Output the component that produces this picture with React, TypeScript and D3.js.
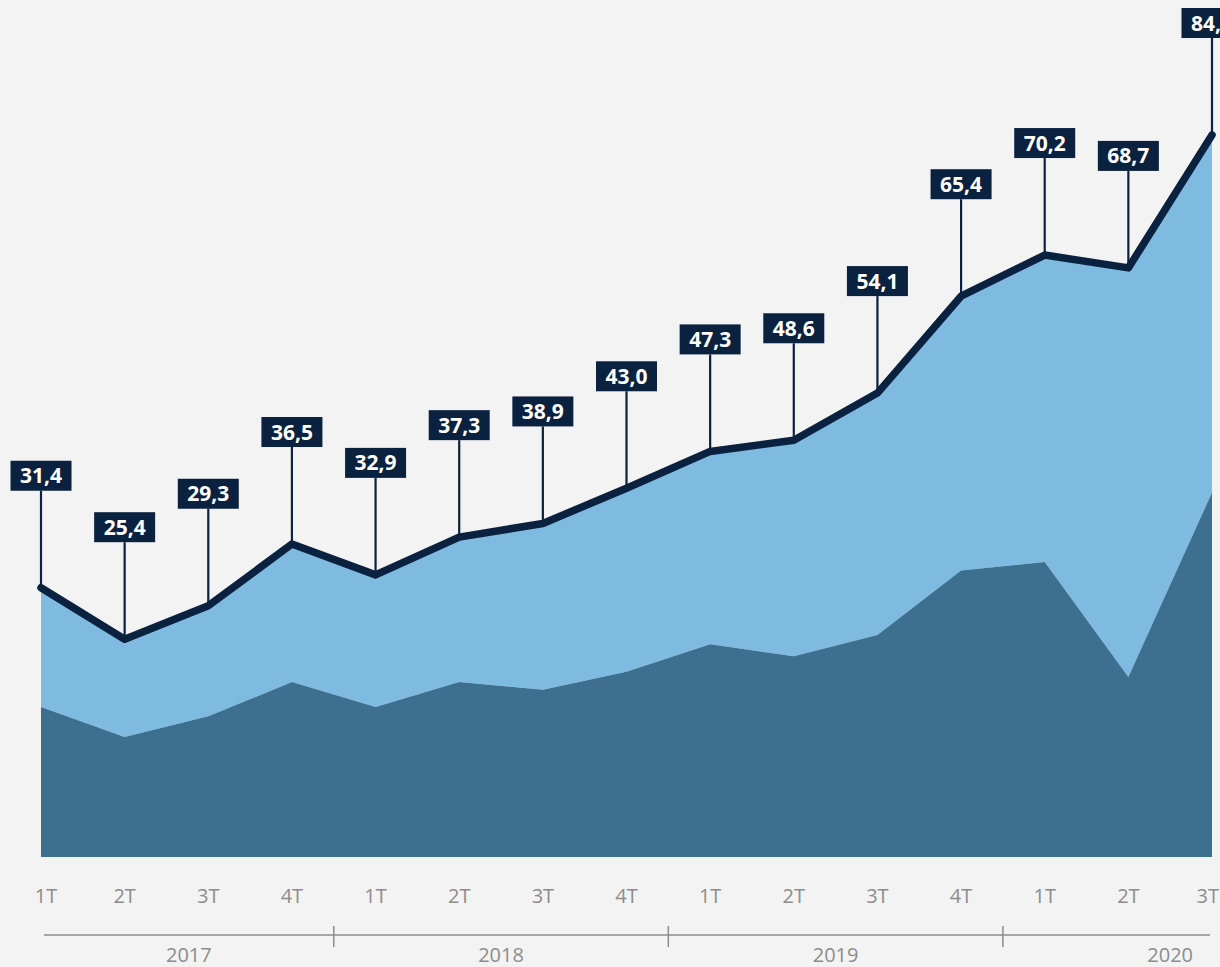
import React from 'react';
import * as d3 from 'd3';

// quarters shown on the x axis
const quarters = ['1T', '2T', '3T', '4T', '1T', '2T', '3T', '4T', '1T', '2T', '3T', '4T', '1T', '2T', '3T'];
const years = ['2017', '2018', '2019', '2020'];
const quartersPerYear = [4, 4, 4, 3];

// total (line + labels) and lower stacked series
const totals = [31.4, 25.4, 29.3, 36.5, 32.9, 37.3, 38.9, 43.0, 47.3, 48.6, 54.1, 65.4, 70.2, 68.7, 84.2];
const lower = [17.5, 14.0, 16.4, 20.4, 17.5, 20.4, 19.5, 21.6, 24.8, 23.4, 25.9, 33.4, 34.4, 21.0, 42.5];

const W = 1220;
const H = 967;
const navy = '#0b2140';
const gray = '#8c8c8c';
const font = "'Open Sans', 'DejaVu Sans', sans-serif";

const fmt = (v: number) => v.toFixed(1).replace('.', ',');

export default function App() {
  const idx = quarters.map((_, i) => i);
  const x = d3.scalePoint<number>().domain(idx).range([41, 1212]);
  const y = d3.scaleLinear().domain([0, 84.2]).range([857, 135]);
  const step = x.step();
  const last = idx.length - 1;

  const darkArea = d3.area<number>()
    .x(i => x(i)!)
    .y0(() => y(0))
    .y1(i => y(lower[i]));

  const lightArea = d3.area<number>()
    .x(i => x(i)!)
    .y0(i => y(lower[i]))
    .y1(i => y(totals[i]));

  const line = d3.line<number>()
    .x(i => x(i)!)
    .y(i => y(totals[i]));

  // year segments on the bottom axis
  const axisY = 935;
  const bounds: number[] = [44];
  let acc = 0;
  quartersPerYear.forEach((n, k) => {
    acc += n;
    if (k < quartersPerYear.length - 1) bounds.push((x(acc - 1)! + x(acc)!) / 2);
  });
  const axisEnd = x(last)! - 2;
  const lastSegEnd = x(last)! + step * (4 - quartersPerYear[quartersPerYear.length - 1] + 0.5);
  const segEnds = [...bounds.slice(1), lastSegEnd];

  const boxW = 61;
  const boxH = 30;
  const gap = 97;

  return (
    <svg width={W} height={H} style={{ position: 'absolute', left: 0, top: 0 }}>
      <rect width={W} height={H} fill="#f3f3f3" />
      <path d={lightArea(idx)!} fill="#7fbbe1" />
      <path d={darkArea(idx)!} fill="#3d6f91" />

      {idx.map(i => {
        const cx = x(i)!;
        const py = y(totals[i]);
        const top = py - gap - boxH;
        return (
          <g key={'lbl' + i}>
            <line x1={cx} x2={cx} y1={top + boxH} y2={py} stroke={navy} strokeWidth={2.2} />
            <rect x={cx - boxW / 2} y={top} width={boxW} height={boxH} fill={navy} />
            <text x={cx} y={top + 22.5} textAnchor="middle" fill="#fff" fontFamily={font} fontWeight={700} fontSize={21}>
              {fmt(totals[i])}
            </text>
          </g>
        );
      })}

      <path d={line(idx)!} fill="none" stroke={navy} strokeWidth={7.5} strokeLinejoin="round" strokeLinecap="round" />

      {idx.map(i => (
        <text
          key={'q' + i}
          x={i === last ? 1219 : x(i)! + (i === 0 ? 5 : 0)}
          y={903}
          textAnchor={i === last ? 'end' : 'middle'}
          fill={gray}
          fontFamily={font}
          fontSize={20}
        >
          {quarters[i]}
        </text>
      ))}

      <line x1={44} x2={axisEnd} y1={axisY} y2={axisY} stroke={gray} strokeWidth={1.5} />
      {bounds.slice(1).map((b, k) => (
        <line key={'t' + k} x1={b} x2={b} y1={axisY - 9} y2={axisY + 12} stroke={gray} strokeWidth={1.5} />
      ))}
      {years.map((yr, k) => (
        <text key={yr} x={(bounds[k] + segEnds[k]) / 2} y={962} textAnchor="middle" fill={gray} fontFamily={font} fontSize={20}>
          {yr}
        </text>
      ))}
    </svg>
  );
}
